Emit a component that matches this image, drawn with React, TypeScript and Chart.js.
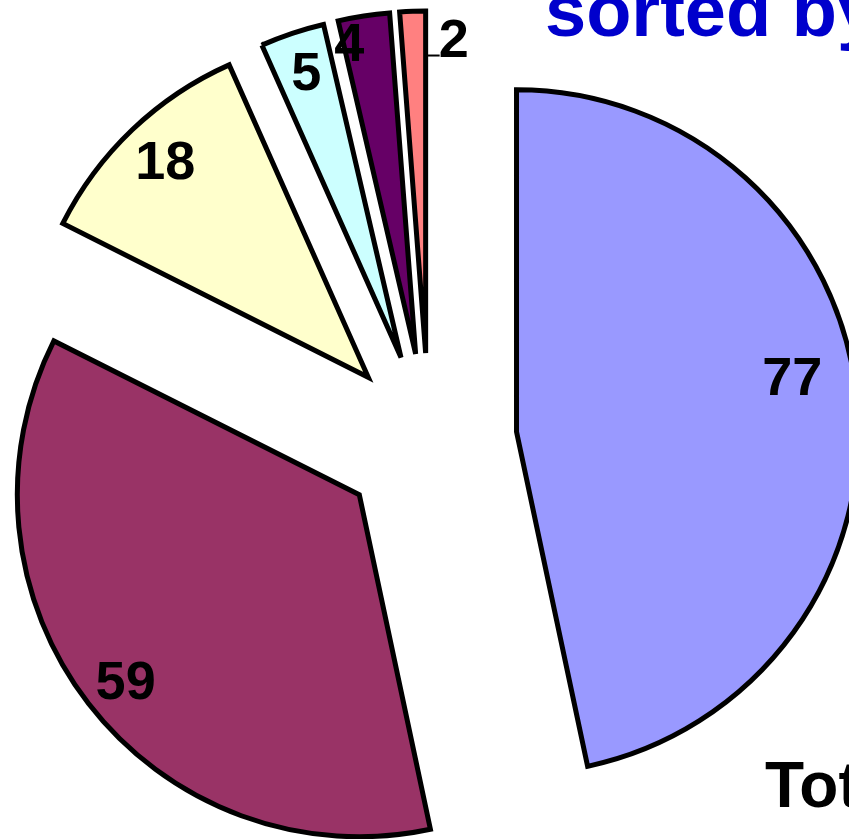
import React, { useEffect, useRef } from "react";
import { Chart, registerables, PieController } from "chart.js";

Chart.register(...registerables);

const categories = ["A", "B", "C", "D", "E", "F"];
const values = [77, 59, 18, 5, 4, 2];
const colors = ["#9999FF", "#993366", "#FFFFCC", "#CCFFFF", "#660066", "#FF8080"];
const labelFractions = [0.82, 0.88, 0.86, 0.87, 0.92, 0.87];
const labelAngleNudge = [-0.08, -0.025, 0, 0, -0.06, 0];
const titleText = "sorted by size";
const totalText = "Total: 165";
const EXPLODE = 88;

class ExplodedPieController extends (PieController as any) {
  static id = "explodedPie";
  draw() {
    const self: any = this;
    const ctx = self.chart.ctx;
    const area = self.chart.chartArea;
    const elements = self._cachedMeta.data || [];
    elements.forEach((arc: any) => {
      if (arc.hidden) return;
      const mid = (arc.startAngle + arc.endAngle) / 2;
      ctx.save();
      ctx.translate(Math.cos(mid) * EXPLODE, Math.sin(mid) * EXPLODE);
      arc.draw(ctx, area);
      ctx.restore();
    });
  }
}
Chart.register(ExplodedPieController as any);

const labelPlugin = {
  id: "sliceLabels",
  afterDatasetsDraw(chart: any) {
    const ctx = chart.ctx;
    const meta = chart.getDatasetMeta(0);
    ctx.save();
    ctx.fillStyle = "#000";
    ctx.font = "bold 54px 'Liberation Sans', Arial, sans-serif";
    ctx.textAlign = "center";
    ctx.textBaseline = "middle";
    meta.data.forEach((arc: any, i: number) => {
      const p = arc.getProps(["x", "y", "startAngle", "endAngle", "outerRadius"], true);
      const mid = (p.startAngle + p.endAngle) / 2;
      const ax = p.x + EXPLODE * Math.cos(mid);
      const ay = p.y + EXPLODE * Math.sin(mid);
      const f = labelFractions[i];
      const span = p.endAngle - p.startAngle;
      if (span < 0.1) {
        const ex = ax + f * p.outerRadius * Math.cos(p.endAngle);
        const ey = ay + f * p.outerRadius * Math.sin(p.endAngle);
        ctx.strokeStyle = "#000";
        ctx.lineWidth = 2;
        ctx.beginPath();
        ctx.moveTo(ex + 2, ey);
        ctx.lineTo(ex + 14, ey);
        ctx.stroke();
        ctx.textAlign = "left";
        ctx.fillText(String(values[i]), ex + 13, ey - 13);
        ctx.textAlign = "center";
      } else {
        const ang = mid + labelAngleNudge[i];
        const lx = ax + f * p.outerRadius * Math.cos(ang);
        const ly = ay + f * p.outerRadius * Math.sin(ang);
        ctx.fillText(String(values[i]), lx, ly);
      }
    });
    ctx.textAlign = "left";
    ctx.textBaseline = "alphabetic";
    ctx.fillStyle = "#0000CC";
    ctx.font = "bold 74px 'Liberation Sans', Arial, sans-serif";
    ctx.fillText(titleText, 545, 36);
    ctx.fillStyle = "#000";
    ctx.font = "bold 64px 'Liberation Sans', Arial, sans-serif";
    ctx.fillText(totalText, 765, 807);
    ctx.restore();
  },
};

export default function App() {
  const ref = useRef<HTMLCanvasElement | null>(null);
  useEffect(() => {
    if (!ref.current) return;
    const chart = new Chart(ref.current, {
      type: "explodedPie" as any,
      data: {
        labels: categories,
        datasets: [
          {
            data: values,
            backgroundColor: colors,
            borderColor: "#000",
            borderWidth: 5,
            borderJoinStyle: "miter",
            clip: false,
          } as any,
        ],
      },
      options: {
        responsive: false,
        animation: false,
        radius: 342,
        cutout: 0,
        events: [],
        layout: { padding: { left: 9, top: 43, right: 0, bottom: 0 } },
        plugins: { legend: { display: false }, tooltip: { enabled: false }, title: { display: false } },
      } as any,
      plugins: [labelPlugin],
    });
    return () => chart.destroy();
  }, []);
  return (
    <div style={{ position: "absolute", left: 0, top: 0, width: 849, height: 839, overflow: "hidden", background: "#fff" }}>
      <canvas ref={ref} width={849} height={839} style={{ width: 849, height: 839 }} />
    </div>
  );
}
